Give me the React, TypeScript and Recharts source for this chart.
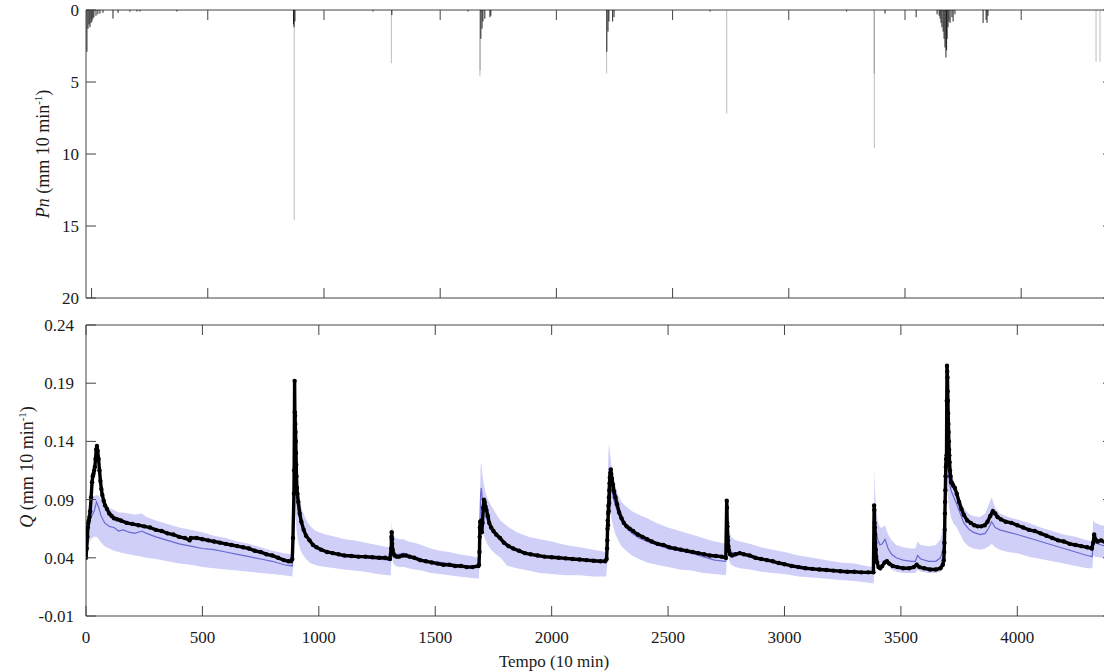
import React from 'react'
import { Area, ComposedChart, Line, ReferenceArea, Scatter, XAxis, YAxis } from 'recharts'

// two stacked panels: net rainfall (inverted) and discharge Q with observed / simulated / band

const FONT = '"Liberation Serif", "Times New Roman", serif'
const FRAME = '#444'
const TXT = '#1a1a1a'
const TICK = 10
const PLOT_W = 1027
const PN_TOP = 10

const xTicks = [0, 500, 1000, 1500, 2000, 2500, 3000, 3500, 4000]
const pnTicks = [0, 5, 10, 15, 20]
const qTicks = [-0.01, 0.04, 0.09, 0.14, 0.19, 0.24]

// rainfall, mm per 10 min
const rainT = [-20, -15.5, -11, -7, -2.6, 1.7, 6, 10, 19, 27, 36, 49, 92, 114, 165, 195, 208, 367,
  869, 871, 872, 875, 1211, 1290, 1292, 1620, 1671, 1672, 1675, 1680, 1684, 1692, 1714, 1718,
  2216, 2217, 2222, 2226, 2242, 2248, 2661, 2733, 3249, 3367, 3368, 3414, 3548,
  3638, 3647, 3651, 3655, 3659, 3664, 3668, 3672, 3676, 3679, 3681, 3685, 3689, 3694, 3702, 3707, 3715,
  3836, 3849, 3853, 3857, 4322, 4339]
const rainP = [2.9, 1.3, 1.0, 1.2, 0.9, 0.8, 0.6, 0.5, 0.4, 0.3, 0.25, 0.2, 0.6, 0.2, 0.12, 0.1, 0.1, 0.1,
  1.0, 1.2, 14.6, 0.8, 0.1, 3.7, 0.35, 0.1, 4.6, 4.2, 2.0, 1.3, 0.8, 0.6, 0.5, 0.4,
  4.4, 2.9, 1.5, 0.8, 0.8, 0.5, 0.1, 7.2, 0.1, 4.4, 9.6, 0.25, 0.5,
  0.3, 0.4, 0.6, 0.9, 1.2, 1.5, 2.0, 2.6, 3.3, 2.8, 2.0, 1.2, 0.8, 0.9, 0.5, 0.8, 0.3,
  0.9, 0.7, 0.9, 0.4, 3.6, 3.6]

// observed discharge
const obsT = [
  0, 3, 6, 8, 10, 12, 15, 18, 22, 26, 29, 32, 35, 38, 41, 44, 47, 50, 54, 58, 62, 66, 70, 76, 82, 90, 100, 110, 120, 135, 150, 175, 200, 225, 250, 275, 300, 325, 350, 375, 400, 425, 445, 450, 475, 500, 525, 550, 575, 600, 625, 650, 675, 700, 725, 750, 775, 800, 825, 850, 870, 880, 886,
  889, 893, 894, 896, 897, 898, 899, 900, 901, 902, 903, 904, 906, 908, 912, 918, 925, 935, 945, 960, 975, 990, 1010, 1035, 1060, 1085, 1110, 1140, 1170, 1200, 1230, 1260, 1285, 1305,
  1311, 1312, 1313, 1314, 1315, 1317, 1320, 1325, 1335, 1345, 1360, 1375, 1390, 1410, 1435, 1460, 1485, 1510, 1535, 1560, 1585, 1610, 1635, 1660, 1685,
  1688, 1690, 1691, 1692, 1693, 1694, 1696, 1698, 1700, 1703, 1706, 1709, 1712, 1716, 1720, 1726, 1732, 1740, 1750, 1762, 1778, 1795, 1815, 1835, 1860, 1885, 1910, 1940, 1970, 2000, 2030, 2060, 2090, 2120, 2150, 2180, 2210, 2230, 2236,
  2238, 2239, 2240, 2241, 2242, 2243, 2244, 2245, 2246, 2247, 2248, 2249, 2250, 2252, 2254, 2256, 2259, 2263, 2268, 2274, 2281, 2290, 2300, 2310, 2322, 2335, 2350, 2370, 2390, 2410, 2430, 2455, 2480, 2505, 2530, 2555, 2580, 2605, 2630, 2655, 2680, 2705, 2730, 2748,
  2752, 2753, 2754, 2755, 2756, 2757, 2759, 2762, 2766, 2775, 2790, 2808, 2825, 2850, 2875, 2900, 2925, 2950, 2975, 3000, 3030, 3060, 3090, 3120, 3150, 3180, 3210, 3240, 3270, 3300, 3330, 3360, 3382,
  3385, 3386, 3387, 3388, 3389, 3390, 3392, 3394, 3398, 3404, 3411, 3420, 3430, 3440, 3450, 3465, 3485, 3510, 3535, 3555, 3568, 3580, 3600, 3625, 3650, 3670, 3680,
  3684, 3686, 3687, 3688, 3689, 3690, 3691, 3692, 3693, 3694, 3695, 3696, 3697, 3698, 3699, 3700, 3701, 3702, 3703, 3704, 3705, 3706, 3707, 3708, 3709, 3711, 3713, 3716, 3720, 3725, 3732, 3740, 3750, 3760, 3770, 3785, 3800, 3815, 3830, 3845, 3860, 3872, 3884, 3895, 3905, 3915, 3930, 3950, 3975, 4000, 4025, 4050, 4075, 4100, 4125, 4150, 4175, 4200, 4225, 4250, 4275, 4300, 4320, 4326, 4330, 4335, 4345, 4360, 4380, 4400,
]
const obsQ = [
  0.040, 0.048, 0.058, 0.066, 0.070, 0.072, 0.075, 0.080, 0.092, 0.105, 0.110, 0.112, 0.115, 0.118, 0.125, 0.133, 0.136, 0.132, 0.125, 0.115, 0.106, 0.099, 0.094, 0.089, 0.085, 0.082, 0.078, 0.076, 0.074, 0.073, 0.072, 0.070, 0.069, 0.068, 0.067, 0.066, 0.064, 0.063, 0.061, 0.060, 0.058, 0.057, 0.055, 0.057, 0.057, 0.056, 0.055, 0.054, 0.053, 0.052, 0.051, 0.050, 0.049, 0.048, 0.046, 0.045, 0.043, 0.042, 0.040, 0.038, 0.037, 0.037, 0.039,
  0.057, 0.095, 0.115, 0.192, 0.165, 0.162, 0.155, 0.148, 0.140, 0.130, 0.120, 0.110, 0.100, 0.095, 0.088, 0.078, 0.071, 0.064, 0.059, 0.055, 0.051, 0.049, 0.047, 0.045, 0.044, 0.043, 0.042, 0.0415, 0.041, 0.041, 0.0405, 0.040, 0.040, 0.039,
  0.048, 0.058, 0.062, 0.056, 0.052, 0.047, 0.044, 0.042, 0.041, 0.041, 0.042, 0.042, 0.041, 0.040, 0.038, 0.037, 0.036, 0.035, 0.034, 0.034, 0.033, 0.033, 0.032, 0.032, 0.033,
  0.034, 0.045, 0.058, 0.066, 0.071, 0.064, 0.068, 0.072, 0.062, 0.070, 0.083, 0.090, 0.088, 0.084, 0.081, 0.076, 0.070, 0.066, 0.063, 0.060, 0.057, 0.053, 0.050, 0.048, 0.046, 0.044, 0.043, 0.042, 0.041, 0.0405, 0.040, 0.0395, 0.039, 0.0385, 0.038, 0.0375, 0.037, 0.037, 0.039,
  0.048, 0.055, 0.065, 0.072, 0.068, 0.078, 0.085, 0.080, 0.092, 0.087, 0.098, 0.104, 0.109, 0.113, 0.116, 0.112, 0.108, 0.103, 0.097, 0.092, 0.086, 0.079, 0.074, 0.070, 0.067, 0.065, 0.063, 0.060, 0.058, 0.056, 0.054, 0.052, 0.051, 0.049, 0.048, 0.047, 0.046, 0.045, 0.044, 0.043, 0.042, 0.0415, 0.041, 0.040,
  0.089, 0.083, 0.070, 0.067, 0.058, 0.055, 0.050, 0.046, 0.043, 0.042, 0.043, 0.044, 0.043, 0.042, 0.040, 0.039, 0.038, 0.037, 0.0355, 0.0345, 0.033, 0.032, 0.031, 0.0305, 0.030, 0.0295, 0.029, 0.0285, 0.028, 0.028, 0.0275, 0.0275, 0.0275,
  0.085, 0.081, 0.070, 0.066, 0.060, 0.053, 0.047, 0.041, 0.036, 0.032, 0.031, 0.033, 0.036, 0.037, 0.035, 0.033, 0.032, 0.031, 0.031, 0.032, 0.034, 0.032, 0.031, 0.030, 0.030, 0.031, 0.034,
  0.038, 0.045, 0.053, 0.064, 0.078, 0.088, 0.098, 0.110, 0.118, 0.125, 0.120, 0.128, 0.175, 0.205, 0.200, 0.195, 0.183, 0.175, 0.164, 0.155, 0.148, 0.140, 0.133, 0.128, 0.122, 0.115, 0.110, 0.105, 0.104, 0.102, 0.100, 0.095, 0.088, 0.082, 0.077, 0.072, 0.070, 0.068, 0.067, 0.067, 0.068, 0.071, 0.076, 0.080, 0.078, 0.075, 0.073, 0.071, 0.070, 0.068, 0.066, 0.064, 0.063, 0.061, 0.059, 0.057, 0.055, 0.054, 0.052, 0.051, 0.050, 0.049, 0.048, 0.053, 0.060, 0.056, 0.054, 0.055, 0.053, 0.052,
]

// simulated discharge with its uncertainty band
const simT = [
  0, 8, 20, 35, 45, 55, 65, 80, 100, 120, 140, 160, 185, 210, 240, 260, 300, 350, 400, 450, 500, 550, 600, 650, 700, 750, 800, 850, 886,
  889, 892, 895, 897, 900, 905, 912, 920, 930, 945, 960, 980, 1000, 1030, 1070, 1110, 1150, 1200, 1250, 1300, 1309,
  1311, 1313, 1316, 1320, 1330, 1345, 1365, 1385, 1410, 1440, 1480, 1520, 1560, 1600, 1640, 1687,
  1689, 1692, 1695, 1698, 1702, 1708, 1716, 1726, 1740, 1760, 1780, 1810, 1850, 1900, 1950, 2000, 2060, 2120, 2180, 2234,
  2237, 2240, 2243, 2246, 2250, 2256, 2264, 2274, 2286, 2300, 2320, 2345, 2375, 2410, 2450, 2500, 2550, 2600, 2650, 2700, 2748,
  2750, 2752, 2754, 2757, 2762, 2770, 2790, 2810, 2850, 2900, 2950, 3000, 3060, 3120, 3180, 3240, 3300, 3350, 3382,
  3384, 3386, 3389, 3393, 3400, 3410, 3420, 3432, 3445, 3460, 3480, 3510, 3545, 3562, 3572, 3585, 3620, 3650, 3670, 3682,
  3684, 3688, 3692, 3695, 3698, 3702, 3708, 3715, 3725, 3740, 3755, 3770, 3790, 3810, 3840, 3862, 3878, 3890, 3905, 3925, 3960, 4000, 4050, 4100, 4150, 4200, 4250, 4300, 4322, 4326, 4335, 4360, 4410,
]
const simQ = [
  0.050, 0.065, 0.074, 0.080, 0.088, 0.083, 0.076, 0.070, 0.067, 0.066, 0.063, 0.064, 0.062, 0.061, 0.063, 0.061, 0.058, 0.055, 0.052, 0.050, 0.048, 0.047, 0.045, 0.043, 0.041, 0.039, 0.037, 0.034, 0.033,
  0.040, 0.070, 0.115, 0.118, 0.105, 0.090, 0.079, 0.071, 0.065, 0.059, 0.055, 0.051, 0.048, 0.046, 0.044, 0.042, 0.041, 0.040, 0.039, 0.038, 0.038,
  0.045, 0.055, 0.050, 0.046, 0.043, 0.043, 0.044, 0.042, 0.041, 0.039, 0.037, 0.036, 0.035, 0.034, 0.033, 0.032,
  0.040, 0.070, 0.095, 0.100, 0.090, 0.082, 0.076, 0.071, 0.065, 0.059, 0.055, 0.050, 0.046, 0.043, 0.041, 0.040, 0.039, 0.038, 0.037, 0.036,
  0.040, 0.075, 0.100, 0.112, 0.110, 0.100, 0.092, 0.085, 0.078, 0.072, 0.066, 0.061, 0.057, 0.054, 0.051, 0.048, 0.046, 0.044, 0.041, 0.038, 0.037,
  0.040, 0.075, 0.068, 0.058, 0.050, 0.045, 0.044, 0.044, 0.042, 0.039, 0.037, 0.035, 0.033, 0.031, 0.030, 0.029, 0.028, 0.027, 0.027,
  0.035, 0.085, 0.074, 0.064, 0.056, 0.051, 0.052, 0.056, 0.048, 0.043, 0.040, 0.038, 0.037, 0.037, 0.042, 0.039, 0.037, 0.037, 0.040, 0.048,
  0.050, 0.080, 0.110, 0.125, 0.127, 0.118, 0.105, 0.098, 0.093, 0.086, 0.078, 0.070, 0.065, 0.062, 0.060, 0.061, 0.066, 0.071, 0.066, 0.064, 0.062, 0.060, 0.057, 0.054, 0.051, 0.048, 0.045, 0.042, 0.041, 0.056, 0.053, 0.051, 0.049,
]
const simLo = [
  0.040, 0.050, 0.056, 0.058, 0.058, 0.056, 0.053, 0.050, 0.048, 0.046, 0.045, 0.044, 0.043, 0.042, 0.041, 0.040, 0.039, 0.037, 0.035, 0.034, 0.032, 0.031, 0.030, 0.029, 0.028, 0.027, 0.026, 0.025, 0.024,
  0.030, 0.050, 0.092, 0.090, 0.075, 0.062, 0.053, 0.047, 0.043, 0.039, 0.036, 0.034, 0.033, 0.032, 0.031, 0.030, 0.029, 0.028, 0.026, 0.025, 0.025,
  0.035, 0.042, 0.038, 0.035, 0.033, 0.032, 0.032, 0.031, 0.030, 0.029, 0.027, 0.026, 0.025, 0.024, 0.023, 0.022,
  0.030, 0.055, 0.075, 0.078, 0.068, 0.060, 0.055, 0.051, 0.047, 0.043, 0.040, 0.033, 0.031, 0.029, 0.027, 0.026, 0.025, 0.025, 0.024, 0.024,
  0.030, 0.055, 0.078, 0.088, 0.085, 0.075, 0.067, 0.060, 0.055, 0.050, 0.046, 0.042, 0.039, 0.036, 0.034, 0.032, 0.030, 0.029, 0.027, 0.026, 0.025,
  0.028, 0.060, 0.052, 0.045, 0.038, 0.034, 0.032, 0.031, 0.030, 0.028, 0.027, 0.026, 0.024, 0.023, 0.022, 0.021, 0.020, 0.019, 0.018,
  0.020, 0.058, 0.050, 0.043, 0.038, 0.035, 0.035, 0.037, 0.033, 0.030, 0.028, 0.027, 0.027, 0.027, 0.030, 0.028, 0.027, 0.027, 0.028, 0.032,
  0.035, 0.060, 0.085, 0.098, 0.100, 0.092, 0.082, 0.075, 0.070, 0.066, 0.060, 0.054, 0.050, 0.048, 0.047, 0.048, 0.050, 0.052, 0.049, 0.047, 0.045, 0.044, 0.041, 0.039, 0.037, 0.035, 0.033, 0.031, 0.031, 0.042, 0.041, 0.040, 0.038,
]
const simHi = [
  0.062, 0.080, 0.090, 0.093, 0.094, 0.093, 0.090, 0.086, 0.083, 0.081, 0.079, 0.079, 0.078, 0.077, 0.078, 0.075, 0.072, 0.069, 0.066, 0.064, 0.062, 0.059, 0.057, 0.054, 0.052, 0.049, 0.046, 0.044, 0.043,
  0.048, 0.090, 0.130, 0.132, 0.122, 0.108, 0.096, 0.087, 0.080, 0.073, 0.068, 0.064, 0.062, 0.060, 0.058, 0.056, 0.055, 0.053, 0.051, 0.049, 0.048,
  0.055, 0.072, 0.064, 0.060, 0.057, 0.056, 0.056, 0.054, 0.053, 0.051, 0.048, 0.046, 0.045, 0.043, 0.042, 0.040,
  0.050, 0.095, 0.118, 0.122, 0.112, 0.104, 0.096, 0.090, 0.085, 0.078, 0.072, 0.067, 0.062, 0.058, 0.056, 0.054, 0.051, 0.049, 0.047, 0.045,
  0.050, 0.100, 0.125, 0.138, 0.132, 0.120, 0.110, 0.102, 0.094, 0.088, 0.084, 0.080, 0.077, 0.074, 0.070, 0.066, 0.063, 0.060, 0.057, 0.054, 0.052,
  0.050, 0.090, 0.085, 0.075, 0.065, 0.058, 0.055, 0.054, 0.052, 0.049, 0.047, 0.045, 0.042, 0.040, 0.038, 0.036, 0.035, 0.033, 0.032,
  0.045, 0.117, 0.098, 0.084, 0.072, 0.066, 0.066, 0.068, 0.060, 0.055, 0.051, 0.049, 0.048, 0.048, 0.054, 0.051, 0.050, 0.051, 0.056, 0.066,
  0.070, 0.105, 0.130, 0.142, 0.145, 0.138, 0.125, 0.116, 0.108, 0.098, 0.090, 0.083, 0.078, 0.076, 0.075, 0.078, 0.086, 0.092, 0.083, 0.078, 0.075, 0.073, 0.070, 0.066, 0.063, 0.060, 0.058, 0.055, 0.054, 0.072, 0.070, 0.068, 0.066,
]

const rainData = rainT.map((t, i) => ({ t, p: rainP[i] }))
const obsData = obsT.map((t, i) => ({ t, q: obsQ[i] }))
const simData = simT.map((t, i) => ({ t, q: simQ[i], band: [simLo[i], simHi[i]] }))

const txt = { fontFamily: FONT, fontSize: 17, fill: TXT }

const makeXTick = (h: number, label: boolean) => (props: any) => {
  const { x, y, payload } = props
  return (
    <g>
      <line x1={x} x2={x} y1={y} y2={y - TICK} stroke={FRAME} />
      <line x1={x} x2={x} y1={y - h} y2={y - h + TICK} stroke={FRAME} />
      {label && (
        <text x={x} y={y + 27} textAnchor="middle" {...txt}>
          {payload.value}
        </text>
      )}
    </g>
  )
}

const makeYTick = (gap: number) => (props: any) => {
  const { x, y, payload } = props
  return (
    <g>
      <line x1={x} x2={x + TICK} y1={y} y2={y} stroke={FRAME} />
      <line x1={x + PLOT_W - TICK} x2={x + PLOT_W} y1={y} y2={y} stroke={FRAME} />
      <text x={x - gap} y={y} dy="0.35em" textAnchor="end" {...txt}>
        {payload.value}
      </text>
    </g>
  )
}

const Dot = (props: any) => <circle cx={props.cx} cy={props.cy} r={2.2} fill="#000" />

// rain bar hanging from the top edge of the inverted panel; lone tall spikes are faint in the original
const RainBar = (props: any) => {
  const { cx, cy, payload } = props
  return (
    <rect x={cx - 0.5} y={PN_TOP} width={1} height={Math.max(cy - PN_TOP, 0)}
      fill="#111" fillOpacity={payload.p > 3.5 ? 0.28 : 0.9} />
  )
}

export default function App() {
  return (
    <div style={{ position: 'fixed', left: 0, top: 0, width: 1104, height: 672, overflow: 'hidden', background: '#fff' }}>
      <div style={{ position: 'absolute', left: 0, top: 0 }}>
        <ComposedChart width={1200} height={320} margin={{ top: PN_TOP, right: 87, bottom: 21, left: 85 }}>
          <XAxis dataKey="t" type="number" domain={[-24, 4395]} ticks={xTicks} interval={0} height={1}
            axisLine={false} tickLine={false} tickSize={0} tickMargin={0} tick={makeXTick(288, false)} allowDataOverflow />
          <YAxis type="number" domain={[0, 20]} reversed ticks={pnTicks} interval={0} width={1}
            axisLine={false} tickLine={false} tickSize={0} tickMargin={0} tick={makeYTick(7)} allowDataOverflow />
          <Scatter data={rainData} dataKey="p" shape={<RainBar />} isAnimationActive={false} />
          <ReferenceArea x1={-24} x2={4395} y1={0} y2={20} fill="none" stroke={FRAME} strokeWidth={1} />
        </ComposedChart>
      </div>
      <div style={{ position: 'absolute', left: 0, top: 300 }}>
        <ComposedChart width={1200} height={372} margin={{ top: 25, right: 87, bottom: 55, left: 85 }}>
          <XAxis dataKey="t" type="number" domain={[0, 4411]} ticks={xTicks} interval={0} height={1}
            axisLine={false} tickLine={false} tickSize={0} tickMargin={0} tick={makeXTick(291, true)} allowDataOverflow />
          <YAxis type="number" domain={[-0.01, 0.24]} ticks={qTicks} interval={0} width={1}
            axisLine={false} tickLine={false} tickSize={0} tickMargin={0} tick={makeYTick(12)} allowDataOverflow />
          <Area data={simData} dataKey="band" type="linear" stroke="none" fill="#cfcff8" fillOpacity={1} isAnimationActive={false} />
          <Line data={simData} dataKey="q" type="linear" stroke="#6a6ad2" strokeWidth={1.2} dot={false} isAnimationActive={false} />
          <Scatter data={obsData} dataKey="q" fill="#000" shape={<Dot />} line={{ stroke: '#000', strokeWidth: 3.4 }} isAnimationActive={false} />
          <ReferenceArea x1={0} x2={4411} y1={-0.01} y2={0.24} fill="none" stroke={FRAME} strokeWidth={1} />
        </ComposedChart>
      </div>
      <svg width={1104} height={672} style={{ position: 'absolute', left: 0, top: 0, pointerEvents: 'none' }}>
        <text transform="translate(49,154) rotate(-90)" textAnchor="middle" fontFamily={FONT} fontSize={18} fill={TXT}>
          <tspan fontStyle="italic">Pn</tspan> (mm 10 min<tspan dy={-7} fontSize={11}>-1</tspan><tspan dy={7}>)</tspan>
        </text>
        <text transform="translate(33,467) rotate(-90)" textAnchor="middle" fontFamily={FONT} fontSize={18} fill={TXT}>
          <tspan fontStyle="italic">Q</tspan> (mm 10 min<tspan dy={-7} fontSize={11}>-1</tspan><tspan dy={7}>)</tspan>
        </text>
        <text x={554} y={667} textAnchor="middle" fontFamily={FONT} fontSize={17} fill={TXT}>Tempo (10 min)</text>
      </svg>
    </div>
  )
}
